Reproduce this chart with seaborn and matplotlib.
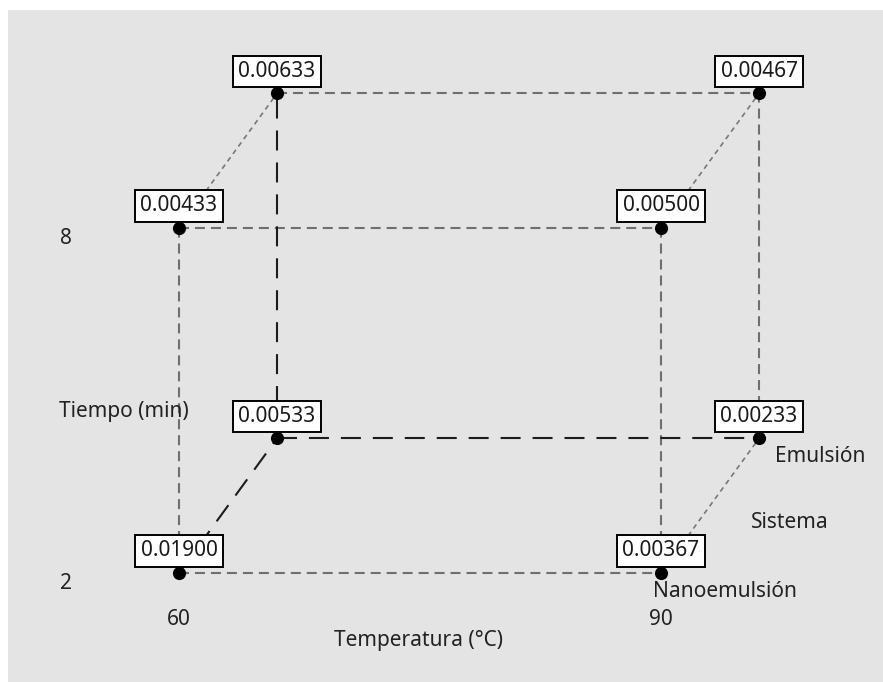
import matplotlib
matplotlib.use("Agg")
import matplotlib.pyplot as plt
import seaborn as sns
import pandas as pd

# Factor levels and mean responses for the 2x2x2 design
temperaturas = [60, 90]
tiempos = [2, 8]
sistemas = ["Nanoemulsión", "Emulsión"]
resp_nanoemulsion = [0.01900, 0.00367, 0.00433, 0.00500]   # (60,2) (90,2) (60,8) (90,8)
resp_emulsion = [0.00533, 0.00233, 0.00633, 0.00467]

sns.set_theme(style="white")
plt.rcParams["font.family"] = ["Noto Sans", "DejaVu Sans"]
plt.rcParams["lines.scale_dashes"] = False

# Oblique projection for the third factor (depth)
DX, DY = 6.1, 2.34

rows = []
for s, resp in zip(sistemas, [resp_nanoemulsion, resp_emulsion]):
    k = sistemas.index(s)
    i = 0
    for t in tiempos:
        for T in temperaturas:
            rows.append(dict(Temperatura=T, Tiempo=t, Sistema=s, k=k,
                             px=T + DX * k, py=t + DY * k, y=resp[i]))
            i += 1
df = pd.DataFrame(rows)

fig = plt.figure(figsize=(8.83, 6.82), dpi=100, facecolor="white")
ax = fig.add_axes([8 / 883, 0, 875 / 883, 672 / 682])
ax.set_facecolor("#e4e4e4")
ax.set_xlim(49.357, 103.817)
ax.set_ylim(0.104, 11.791)
for sp in ax.spines.values():
    sp.set_visible(False)
ax.set_xticks([])
ax.set_yticks([])


def pos(T, t, k):
    r = df[(df.Temperatura == T) & (df.Tiempo == t) & (df.k == k)].iloc[0]
    return r.px, r.py


gray_dash = dict(color="#6f6f6f", lw=1.5, linestyle=(0, (7.2, 4.3)), zorder=1)
black_dash = dict(color="#1c1c1c", lw=1.5, linestyle=(0, (14.4, 8.6)), zorder=1)
thin_dash = dict(color="#777777", lw=1.2, linestyle=(0, (3.6, 3.0)), zorder=1)

edges = []
# front face (Nanoemulsión)
for t in tiempos:
    edges.append(((temperaturas[0], t, 0), (temperaturas[1], t, 0), gray_dash))
for T in temperaturas:
    edges.append(((T, tiempos[0], 0), (T, tiempos[1], 0), gray_dash))
# back face (Emulsión)
edges.append(((temperaturas[0], tiempos[1], 1), (temperaturas[1], tiempos[1], 1), gray_dash))
edges.append(((temperaturas[1], tiempos[0], 1), (temperaturas[1], tiempos[1], 1), gray_dash))
edges.append(((temperaturas[0], tiempos[0], 1), (temperaturas[1], tiempos[0], 1), black_dash))
edges.append(((temperaturas[0], tiempos[0], 1), (temperaturas[0], tiempos[1], 1), black_dash))
# depth edges
for T in temperaturas:
    for t in tiempos:
        style = black_dash if (T, t) == (temperaturas[0], tiempos[0]) else thin_dash
        edges.append(((T, t, 0), (T, t, 1), style))

for a, b, style in edges:
    (x0, y0), (x1, y1) = pos(*a), pos(*b)
    ax.plot([x0, x1], [y0, y1], **style)

sns.scatterplot(data=df, x="px", y="py", ax=ax, color="black", s=90,
                edgecolor="black", linewidth=0, zorder=3, legend=False)
ax.set_xlabel("")
ax.set_ylabel("")

txt_color = "#222222"
for _, r in df.iterrows():
    ax.annotate(f"{r.y:.5f}", (r.px, r.py), xytext=(0, 22), textcoords="offset pixels",
                ha="center", va="center", fontsize=15, color="#1a1a1a", zorder=4,
                bbox=dict(boxstyle="square,pad=0.26", fc="white", ec="black", lw=1.4))

# Factor level labels
for T in temperaturas:
    ax.annotate(str(T), (T, tiempos[0]), xytext=(0, -47), textcoords="offset pixels",
                ha="center", va="center", fontsize=15, color=txt_color)
for t in tiempos:
    ax.annotate(str(t), (temperaturas[0], t), xytext=(-113, -11), textcoords="offset pixels",
                ha="center", va="center", fontsize=15, color=txt_color)

xm = (temperaturas[0] + temperaturas[1]) / 2
ym = (tiempos[0] + tiempos[1]) / 2
ax.annotate("Temperatura (°C)", (xm, tiempos[0]), xytext=(-2, -68), textcoords="offset pixels",
            ha="center", va="center", fontsize=15, color=txt_color)
ax.annotate("Tiempo (min)", (temperaturas[0], ym), xytext=(-55, -11), textcoords="offset pixels",
            ha="center", va="center", fontsize=15, color=txt_color)

bx, by = pos(temperaturas[1], tiempos[0], 1)
fx, fy = pos(temperaturas[1], tiempos[0], 0)
ax.annotate(sistemas[1], (bx, by), xytext=(61, -18), textcoords="offset pixels",
            ha="center", va="center", fontsize=15, color=txt_color)
ax.annotate(sistemas[0], (fx, fy), xytext=(64, -19), textcoords="offset pixels",
            ha="center", va="center", fontsize=15, color=txt_color)
ax.annotate("Sistema", ((bx + fx) / 2, (by + fy) / 2), xytext=(80, -17), textcoords="offset pixels",
            ha="center", va="center", fontsize=15, color=txt_color)

fig.savefig("out.png", dpi=100, facecolor="white")
